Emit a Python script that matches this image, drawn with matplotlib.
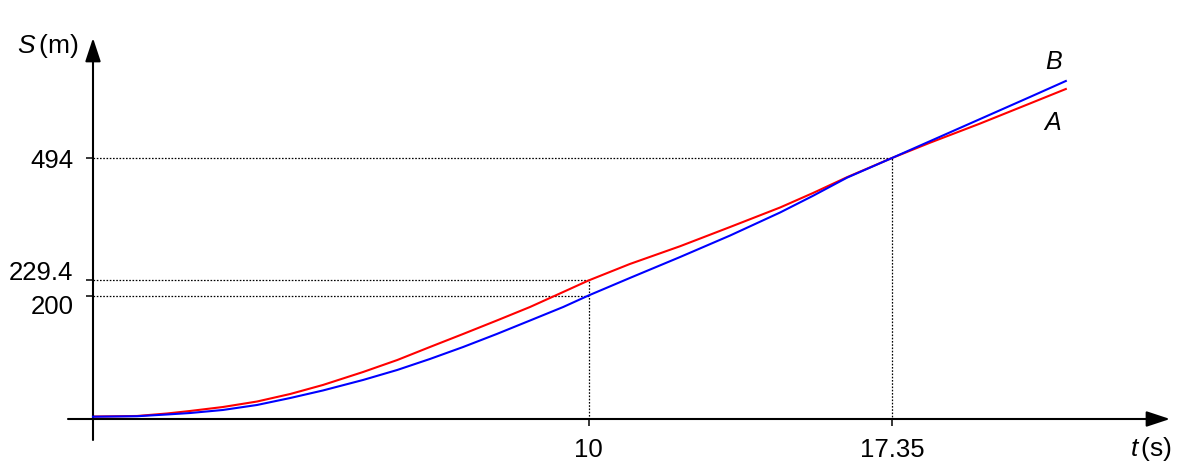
import numpy as np
import matplotlib.pyplot as plt

plt.rcParams['font.family'] = ['Liberation Sans', 'DejaVu Sans']
plt.rcParams['mathtext.fontset'] = 'custom'
plt.rcParams['mathtext.it'] = 'Liberation Sans:italic'
plt.rcParams['mathtext.rm'] = 'Liberation Sans'

# Distance-time readings for the two cars
t = [0, 0.89, 1.49, 1.96, 2.62, 3.31, 3.98, 4.64, 5.45, 6.14, 6.8, 7.47, 8.15, 8.82,
     9.49, 10, 11.0, 12.22, 13.43, 14.64, 15.44, 16.26, 17.35, 18.27, 19.48, 20.69, 21.56]
s_A = [4.0, 4.9, 8.9, 13.0, 19.4, 28.3, 40.5, 55.1, 76.1, 95.5, 116.6, 137.7, 159.5, 181.4,
       206.9, 229.4, 265.0, 303.5, 345.0, 387.1, 418.5, 452.5, 494, 527, 568.3, 611.7, 643]
s_B = [3.7, 4.5, 7.3, 9.7, 14.6, 22.7, 34.0, 46.2, 63.2, 79.4, 97.2, 116.6, 137.7, 159.5,
       181.4, 200, 234.8, 280.2, 326.6, 376.3, 412.5, 451.5, 494, 530.3, 578.0, 625.7, 660.3]

# marked values
t_check = 10
s_A_check = 229.4
s_B_check = 200
t_meet = 17.35
s_meet = 494

x_ticks = [10, 17.35]
x_tick_labels = ['10', '17.35']
y_ticks = [200, 229.4, 494]
y_tick_labels = ['200', '229.4', '494']

# the sketch is not to scale -> piecewise linear maps onto pixel units
x_knots = [-5, 0, 10, 17.35, 40]
x_px = [-154.75, 93, 588.5, 892, 1827.2]
y_knots = [-100, 0, 200, 229.4, 494, 1000]
y_px = [-7.75, 54, 177.5, 192.5, 315, 549.3]

def fx(v):
    return np.interp(v, x_knots, x_px)

def ix(p):
    return np.interp(p, x_px, x_knots)

def fy(v):
    return np.interp(v, y_knots, y_px)

def iy(p):
    return np.interp(p, y_px, y_knots)

W, H = 1191, 473
fig = plt.figure(figsize=(W / 100, H / 100), dpi=100)
ax = fig.add_axes([0, 0, 1, 1])
ax.set_xscale('function', functions=(fx, ix))
ax.set_yscale('function', functions=(fy, iy))
ax.set_xlim(ix(0), ix(W))
ax.set_ylim(iy(0), iy(H))

for sp in ax.spines.values():
    sp.set_visible(False)
ax.spines['left'].set_position(('data', 0))
ax.spines['bottom'].set_position(('data', 0))

# dotted guides
dot = dict(color='black', lw=0.9, ls=(0, (1.3, 1.3)), zorder=1)
ax.plot([0, t_meet, t_meet], [s_meet, s_meet, 0], **dot)
ax.plot([0, t_check, t_check], [s_A_check, s_A_check, 0], **dot)
ax.plot([0, t_check], [s_B_check, s_B_check], **dot)

# curves
ax.plot(t, s_A, color='#ff0000', lw=1.5, zorder=3)
ax.plot(t, s_B, color='#0000ff', lw=1.5, zorder=4)

# ticks
ax.set_xticks(x_ticks, x_tick_labels, fontsize=18.5)
ax.set_yticks(y_ticks, y_tick_labels, fontsize=18.5)
ax.tick_params(axis='both', direction='out', length=5, width=1.1, pad=9)
for lbl in ax.get_yticklabels():
    if lbl.get_text() == '229.4':
        lbl.set_va('baseline')
    elif lbl.get_text() == '200':
        lbl.set_va('top')

# axes with arrow heads
arrow = dict(arrowstyle='-|>,head_length=1.0,head_width=0.33', mutation_scale=14.4,
             lw=1.5, color='black', shrinkA=0, shrinkB=0)
ax.annotate('', xy=(1170 / W, 0), xytext=(68 / W, 0),
            xycoords=ax.get_yaxis_transform(), textcoords=ax.get_yaxis_transform(),
            arrowprops=arrow)
ax.annotate('', xy=(0, 1 - 38 / H), xytext=(0, 1 - 440 / H),
            xycoords=ax.get_xaxis_transform(), textcoords=ax.get_xaxis_transform(),
            arrowprops=arrow)

# labels
fig.text(78 / W, 1 - 53 / H, r'$S\,$(m)', ha='right', va='baseline', fontsize=19)
fig.text(1172 / W, 1 - 456 / H, r'$t\,$(s)', ha='right', va='baseline', fontsize=19)
fig.text(1045 / W, 1 - 69 / H, r'$B$', ha='left', va='baseline', fontsize=18)
fig.text(1043 / W, 1 - 130 / H, r'$A$', ha='left', va='baseline', fontsize=18)

fig.savefig('out.png', dpi=100)
